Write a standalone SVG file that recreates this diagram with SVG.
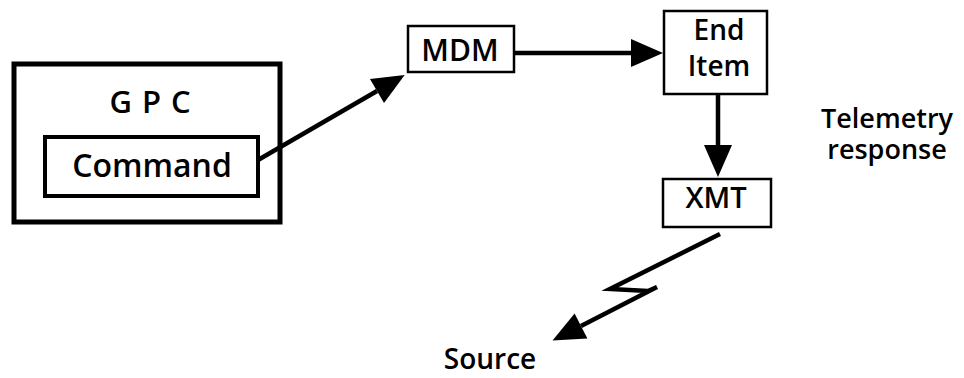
<svg xmlns="http://www.w3.org/2000/svg" width="964" height="378" viewBox="0 0 964 378">
<style>
.box{fill:#fff;stroke:#000}
.t{font-family:"Open Sans","Liberation Sans",sans-serif;font-weight:600;fill:#000;text-anchor:middle}
.c{fill:none;stroke:#000;stroke-width:4.5;stroke-linejoin:miter}
</style>
<defs>
<marker id="ah" markerUnits="userSpaceOnUse" markerWidth="34" markerHeight="30" refX="0" refY="14" orient="auto" overflow="visible">
<path d="M0,0 L32,14 L0,28 Z" fill="#000"/>
</marker>
</defs>
<rect width="964" height="378" fill="#fff"/>
<g id="gpc">
<rect class="box" x="14" y="64" width="266" height="158" stroke-width="5"/>
<text class="t" x="155" y="113" font-size="31" letter-spacing="10">GPC</text>
</g>
<g id="command">
<rect class="box" x="45" y="137" width="213" height="59" stroke-width="4"/>
<text class="t" x="152" y="177" font-size="32">Command</text>
</g>
<g id="mdm">
<rect class="box" x="408" y="26" width="106" height="46" stroke-width="2.5"/>
<text class="t" x="460" y="61" font-size="30">MDM</text>
</g>
<g id="enditem">
<rect class="box" x="664" y="11" width="103" height="83" stroke-width="2.5"/>
<text class="t" x="719" y="40" font-size="28">End</text>
<text class="t" x="719" y="76" font-size="28">Item</text>
</g>
<g id="xmt">
<rect class="box" x="663" y="179" width="108" height="48" stroke-width="2.5"/>
<text class="t" x="716" y="208" font-size="29">XMT</text>
</g>
<g id="telemetry">
<text class="t" x="887" y="128" font-size="27">Telemetry</text>
<text class="t" x="887" y="159" font-size="27">response</text>
</g>
<g id="source">
<text class="t" x="490" y="369" font-size="28">Source</text>
</g>
<g id="connectors">
<line class="c" x1="258" y1="160" x2="377" y2="91" marker-end="url(#ah)"/>
<line class="c" x1="515" y1="53" x2="631" y2="53" marker-end="url(#ah)"/>
<line class="c" x1="718" y1="95" x2="718" y2="145" marker-end="url(#ah)"/>
<polyline class="c" points="720,234 610,289 648,291 657,287 581,326" marker-end="url(#ah)"/>
</g>
</svg>
